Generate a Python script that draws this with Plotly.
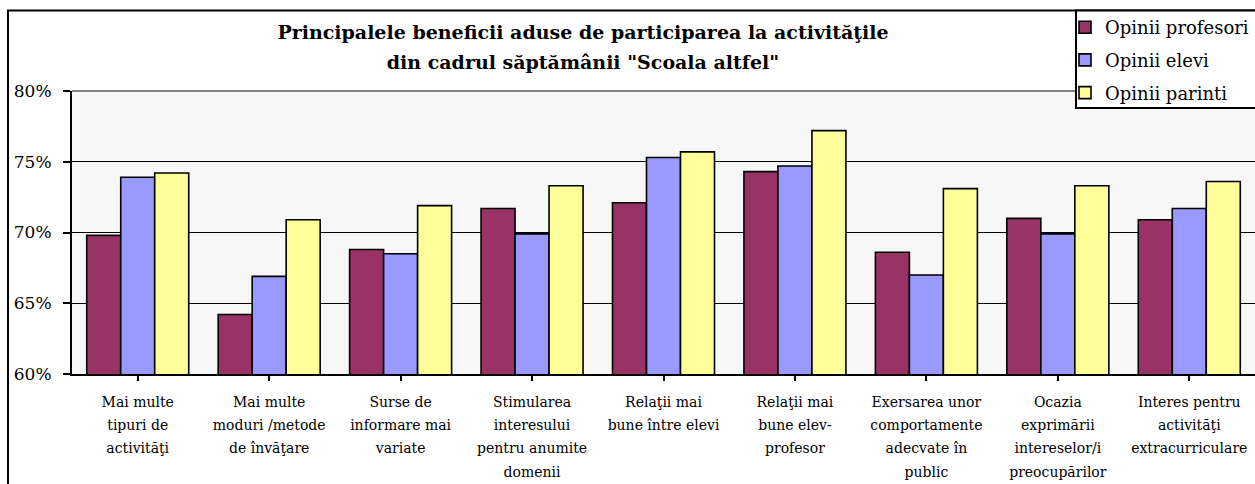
import plotly.graph_objects as go

# Benefit categories (axis labels, wrapped over several lines)
categories = [
    "Mai multe<br>tipuri de<br>activităţi",
    "Mai multe<br>moduri /metode<br>de învăţare",
    "Surse de<br>informare mai<br>variate",
    "Stimularea<br>interesului<br>pentru anumite<br>domenii",
    "Relaţii mai<br>bune între elevi",
    "Relaţii mai<br>bune elev-<br>profesor",
    "Exersarea unor<br>comportamente<br>adecvate în<br>public",
    "Ocazia<br>exprimării<br>intereselor/i<br>preocupărilor",
    "Interes pentru<br>activităţi<br>extracurriculare",
]

# Share of respondents (%) per group
profesori = [69.8, 64.2, 68.8, 71.7, 72.1, 74.3, 68.6, 71.0, 70.9]
elevi = [73.9, 66.9, 68.5, 69.9, 75.3, 74.7, 67.0, 69.9, 71.7]
parinti = [74.2, 70.9, 71.9, 73.3, 75.7, 77.2, 73.1, 73.3, 73.6]

series_names = ["Opinii profesori", "Opinii elevi", "Opinii parinti"]
series_values = [profesori, elevi, parinti]
series_colors = ["#993366", "#9999FF", "#FFFF99"]

y_ticks = [60, 65, 70, 75, 80]

title_lines = [
    "Principalele beneficii aduse de participarea la activităţile",
    "din cadrul săptămânii \"Scoala altfel\"",
]

FONT = "DejaVu Serif"

W, H = 1255, 484
ML, MR, MT, MB = 72, 0, 91, 110
plot_w = W - ML - MR
plot_h = H - MT - MB


def px_to_paper_x(px):
    return (px - ML) / plot_w


def px_to_paper_y(py):
    return (H - MB - py) / plot_h


def sized_lines(lines, size):
    # smaller glyphs inside a larger text element -> wider line spacing
    return "<br>".join(f"<span style='font-size:{size}px'>{ln}</span>" for ln in lines)


fig = go.Figure()
for i, (name, vals, col) in enumerate(zip(series_names, series_values, series_colors)):
    fig.add_trace(go.Bar(
        x=list(range(len(categories))),
        y=vals,
        name=name,
        legendgroup=f"g{i}",
        marker=dict(color=col, line=dict(color="black", width=1.6)),
    ))

shapes = [
    # outer chart frame
    dict(type="rect", xref="paper", yref="paper",
         x0=px_to_paper_x(8), x1=1.2, y0=-0.6, y1=px_to_paper_y(10.5),
         line=dict(color="black", width=2), fillcolor="rgba(0,0,0,0)", layer="above"),
    # top border of the plot area
    dict(type="line", xref="paper", yref="paper",
         x0=0, x1=1, y0=1, y1=1,
         line=dict(color="#808080", width=2), layer="between"),
    # legend frame
    dict(type="rect", xref="paper", yref="paper",
         x0=px_to_paper_x(1076), x1=1.2, y0=px_to_paper_y(108), y1=px_to_paper_y(10.5),
         line=dict(color="black", width=2), fillcolor="white", layer="above"),
]

fig.update_layout(
    width=W, height=H,
    margin=dict(l=ML, r=MR, t=MT, b=MB, pad=0),
    paper_bgcolor="white",
    plot_bgcolor="#F7F7F7",
    font=dict(family=FONT, color="black"),
    barmode="group",
    bargap=0.224,
    bargroupgap=0,
    title=dict(
        text=sized_lines(title_lines, 19),
        font=dict(family=FONT, size=23, color="black", weight="bold"),
        x=px_to_paper_x(583), xref="paper", xanchor="center",
        y=1 - 39 / H, yref="container", yanchor="middle",
    ),
    showlegend=True,
    legend=dict(
        x=px_to_paper_x(1065), xanchor="left",
        y=px_to_paper_y(9), yanchor="top",
        bgcolor="rgba(0,0,0,0)", borderwidth=0,
        font=dict(family=FONT, size=18, color="black"),
        traceorder="grouped", tracegroupgap=6.3,
    ),
    shapes=shapes,
)

fig.update_xaxes(
    tickmode="array",
    tickvals=list(range(len(categories))),
    ticktext=[sized_lines(c.split("<br>"), 14) for c in categories],
    range=[-0.5, len(categories) - 0.5],
    tickson="boundaries",
    ticks="outside", ticklen=5, tickwidth=1.5, tickcolor="black",
    showline=True, linecolor="black", linewidth=2,
    showgrid=False,
    tickangle=0,
    tickfont=dict(family=FONT, size=18, color="black"),
    ticklabelstandoff=4,
)

fig.update_yaxes(
    range=[60, 80],
    tickmode="array",
    tickvals=y_ticks,
    ticktext=[f"{v}%" for v in y_ticks],
    ticks="outside", ticklen=7, tickwidth=1.5, tickcolor="black",
    showline=True, linecolor="black", linewidth=2,
    showgrid=True, gridcolor="black", gridwidth=1.2,
    zeroline=False,
    tickfont=dict(family=FONT, size=17, color="black"),
    ticklabelstandoff=8,
)

fig.write_html("out.html")
